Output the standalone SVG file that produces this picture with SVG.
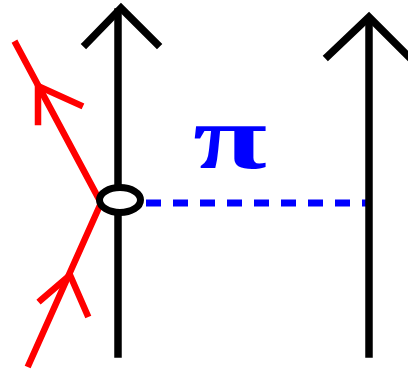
<svg xmlns="http://www.w3.org/2000/svg" width="408" height="369" viewBox="0 0 408 369">
<style>
.blk{stroke:#000;stroke-width:7.5;fill:none;stroke-linecap:square}
.red{stroke:#f00;stroke-width:6.5;fill:none;stroke-linecap:square;stroke-linejoin:miter}
.dash{stroke:#00f;stroke-width:7;stroke-dasharray:15 12;fill:none}
.lbl{font-family:"Liberation Serif","DejaVu Serif",serif;font-weight:bold;fill:#00f}
</style>
<rect width="408" height="369" fill="#fff"/>
<g id="connectors">
<line class="dash" x1="146" y1="203" x2="372" y2="203"/>
</g>
<g id="left-line">
<line class="blk" x1="118" y1="12" x2="118" y2="354"/>
<polyline class="blk" points="86,44 121,8 157,44"/>
</g>
<g id="right-line">
<line class="blk" x1="369" y1="20" x2="369" y2="354"/>
<polyline class="blk" points="328,56 369,17 410,58"/>
</g>
<g id="red-path">
<polyline class="red" points="16,44 101,203 29,364"/>
<polyline class="red" points="38,122 38,86 80,105"/>
<polyline class="red" points="41,300 70,275 87,314"/>
</g>
<g id="vertex">
<ellipse cx="120" cy="200" rx="20.5" ry="12.5" fill="#fff" stroke="#000" stroke-width="7"/>
</g>
<g id="label">
<text class="lbl" x="193" y="168" font-size="92" textLength="74" lengthAdjust="spacingAndGlyphs">π</text>
</g>
</svg>
